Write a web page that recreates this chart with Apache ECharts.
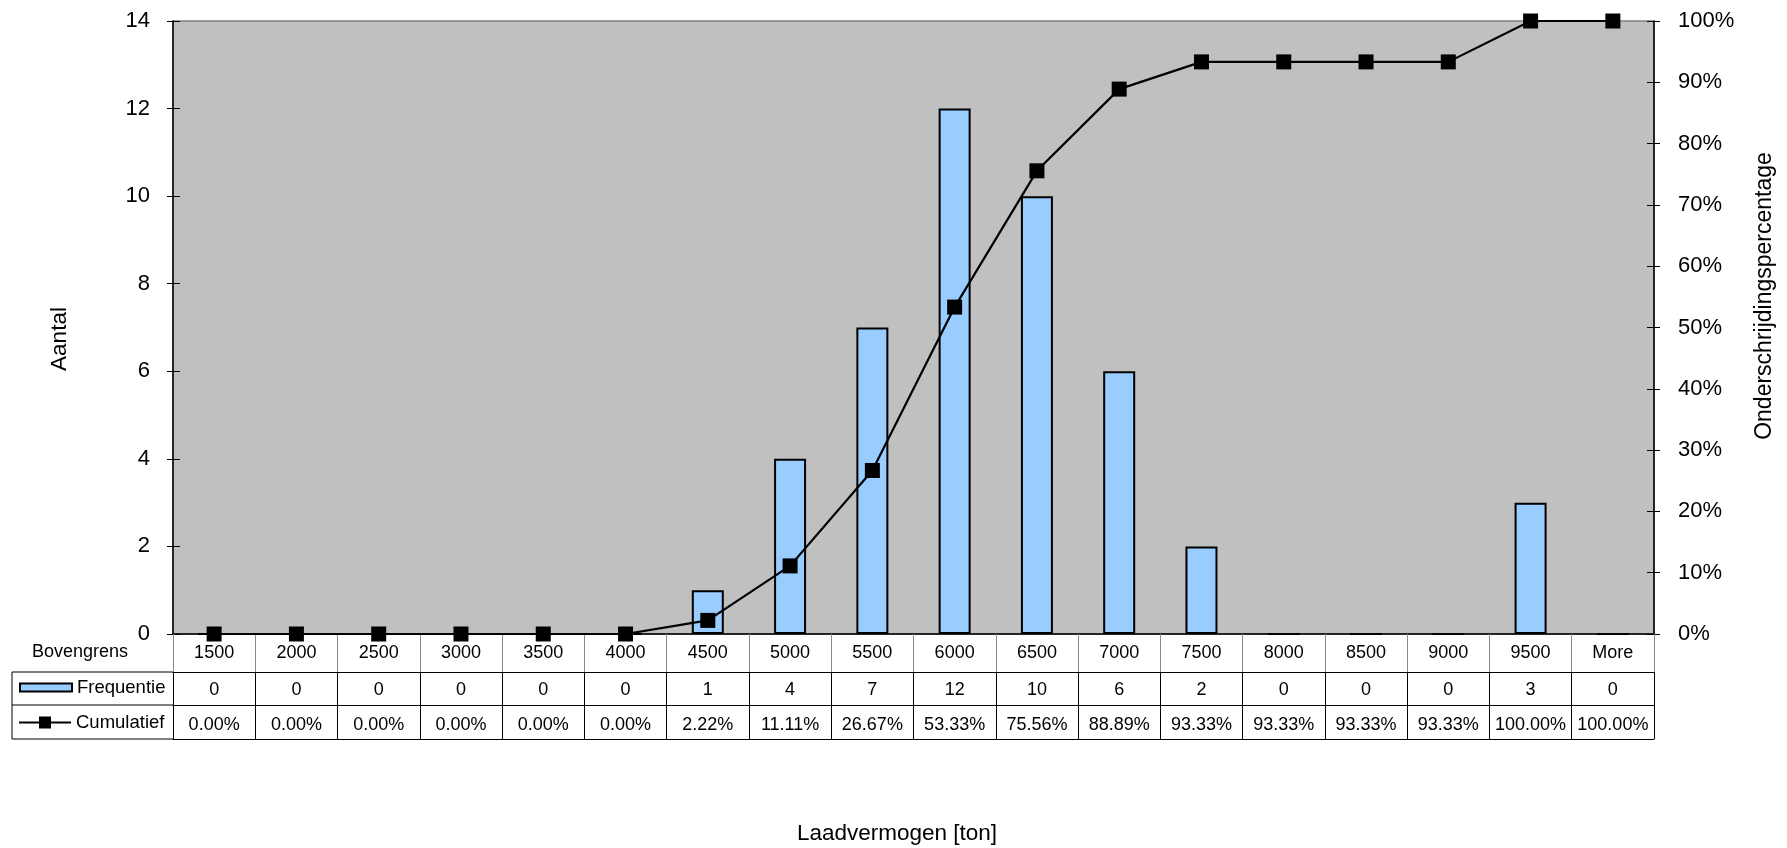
<!DOCTYPE html>
<html>
<head>
<meta charset="utf-8">
<script src="https://cdn.jsdelivr.net/npm/echarts@6/dist/echarts.min.js"></script>
<style>
  html, body { margin: 0; padding: 0; background: #fff; }
  #chart { width: 1787px; height: 848px; }
</style>
</head>
<body>
<div id="chart"></div>
<script>
// Upper class bounds (ton) of the histogram bins
const categories = ['1500', '2000', '2500', '3000', '3500', '4000', '4500', '5000', '5500',
  '6000', '6500', '7000', '7500', '8000', '8500', '9000', '9500', 'More'];
// Number of ships per bin
const frequency = [0, 0, 0, 0, 0, 0, 1, 4, 7, 12, 10, 6, 2, 0, 0, 0, 3, 0];
// Cumulative share (%) per bin
const cumulative = [0, 0, 0, 0, 0, 0, 2.22, 11.11, 26.67, 53.33, 75.56, 88.89, 93.33, 93.33,
  93.33, 93.33, 100, 100];
// Axis ranges
const countAxis = { min: 0, max: 14, interval: 2 };
const pctAxis = { min: 0, max: 100, interval: 10 };

const FONT = '"Liberation Sans", Arial, sans-serif';
const GRID = { left: 173, right: 133, top: 21, bottom: 214 };
const ROW = [38, 71, 105]; // offsets of the table row lines below the plot
const LINE_ICON = 'path://M0,5H20V0H32V5H52V7H32V12H20V7H0Z';

const chart = echarts.init(document.getElementById('chart'), null, { renderer: 'canvas' });

const tableAxis = (labels, offset, showLabels, margin, tickLen) => ({
  type: 'category',
  position: 'bottom',
  offset: offset,
  data: labels,
  boundaryGap: true,
  axisLine: { show: true, onZero: false, lineStyle: { color: '#000', width: 1 } },
  axisTick: { show: tickLen > 0, interval: 0, length: tickLen, lineStyle: { color: '#000', width: 1 } },
  axisLabel: {
    show: showLabels, interval: 0, margin: margin,
    color: '#000', fontFamily: FONT, fontSize: 18
  },
  splitLine: { show: false }
});

// extra value axes that only draw the inner half of the crossing tick marks
const innerTicks = (position, range) => ({
  type: 'value', position: position,
  min: range.min, max: range.max, interval: range.interval,
  axisLine: { show: false },
  axisTick: { show: true, inside: true, length: 7, lineStyle: { color: '#000' } },
  axisLabel: { show: false },
  splitLine: { show: false }
});

const legendBase = {
  orient: 'vertical', left: 19, itemWidth: 52, padding: 0,
  textStyle: { color: '#000', fontFamily: FONT, fontSize: 18.5 }
};

chart.setOption({
  animation: false,
  backgroundColor: '#fff',
  grid: {
    left: GRID.left, right: GRID.right, top: GRID.top, bottom: GRID.bottom,
    show: true, backgroundColor: '#C0C0C0', borderColor: '#808080', borderWidth: 1.5,
    containLabel: false
  },
  legend: [
    Object.assign({}, legendBase, {
      top: 678, itemHeight: 8, icon: 'rect',
      itemStyle: { borderColor: '#000', borderWidth: 2 },
      data: ['Frequentie']
    }),
    Object.assign({}, legendBase, {
      top: 713, itemHeight: 12, icon: LINE_ICON,
      itemStyle: { color: '#000', borderWidth: 0 },
      data: ['Cumulatief']
    })
  ],
  xAxis: [
    {
      type: 'category',
      position: 'bottom',
      data: categories,
      boundaryGap: true,
      axisLine: { show: true, onZero: false, lineStyle: { color: '#000', width: 1.5 } },
      axisTick: { show: true, interval: 0, length: ROW[0], lineStyle: { color: '#888', width: 1 } },
      axisLabel: { interval: 0, margin: 10, color: '#000', fontFamily: FONT, fontSize: 18 },
      splitLine: { show: false }
    },
    tableAxis(frequency.map(String), ROW[0], true, 9, ROW[2] - ROW[0]),
    tableAxis(cumulative.map(v => v.toFixed(2) + '%'), ROW[1], true, 11, 0),
    tableAxis(categories, ROW[2], false, 0, 0)
  ],
  yAxis: [
    {
      type: 'value',
      min: countAxis.min, max: countAxis.max, interval: countAxis.interval,
      axisLine: { show: true, lineStyle: { color: '#000', width: 1.5 } },
      axisTick: { show: true, length: 6, lineStyle: { color: '#000' } },
      axisLabel: { margin: 23, color: '#000', fontFamily: FONT, fontSize: 22 },
      splitLine: { show: false }
    },
    {
      type: 'value',
      min: pctAxis.min, max: pctAxis.max, interval: pctAxis.interval,
      axisLine: { show: true, lineStyle: { color: '#000', width: 1.5 } },
      axisTick: { show: true, length: 6, lineStyle: { color: '#000' } },
      axisLabel: { margin: 24, color: '#000', fontFamily: FONT, fontSize: 22, formatter: '{value}%' },
      splitLine: { show: false }
    },
    innerTicks('left', countAxis),
    innerTicks('right', pctAxis)
  ],
  series: [
    {
      name: 'Frequentie',
      type: 'bar',
      xAxisIndex: 0, yAxisIndex: 0,
      data: frequency,
      barWidth: 32,
      itemStyle: { color: '#99CCFF', borderColor: '#000', borderWidth: 2 }
    },
    {
      name: 'Cumulatief',
      type: 'line',
      xAxisIndex: 0, yAxisIndex: 1,
      data: cumulative,
      symbol: 'rect', symbolSize: 15,
      itemStyle: { color: '#000' },
      lineStyle: { color: '#000', width: 2.2 },
      z: 5
    }
  ],
  graphic: [
    // legend cells left of the data table
    {
      type: 'polyline',
      shape: { points: [[173, 672], [12, 672], [12, 739], [173, 739]] },
      style: { stroke: '#000', lineWidth: 1, fill: null }
    },
    {
      type: 'line',
      shape: { x1: 12, y1: 705, x2: 173, y2: 705 },
      style: { stroke: '#000', lineWidth: 1 }
    },
    {
      type: 'text', x: 32, y: 652,
      style: { text: 'Bovengrens', fill: '#000', font: '18px ' + FONT, textVerticalAlign: 'middle' }
    },
    // axis titles
    {
      type: 'text', x: 60, y: 339, rotation: Math.PI / 2,
      style: {
        text: 'Aantal', fill: '#000', font: '22.5px ' + FONT,
        textAlign: 'center', textVerticalAlign: 'middle'
      }
    },
    {
      type: 'text', x: 1765, y: 296, rotation: Math.PI / 2,
      style: {
        text: 'Onderschrijdingspercentage', fill: '#000', font: '23px ' + FONT,
        textAlign: 'center', textVerticalAlign: 'middle'
      }
    },
    {
      type: 'text', x: 897, y: 834,
      style: {
        text: 'Laadvermogen [ton]', fill: '#000', font: '22.5px ' + FONT,
        textAlign: 'center', textVerticalAlign: 'middle'
      }
    }
  ]
});
</script>
</body>
</html>
